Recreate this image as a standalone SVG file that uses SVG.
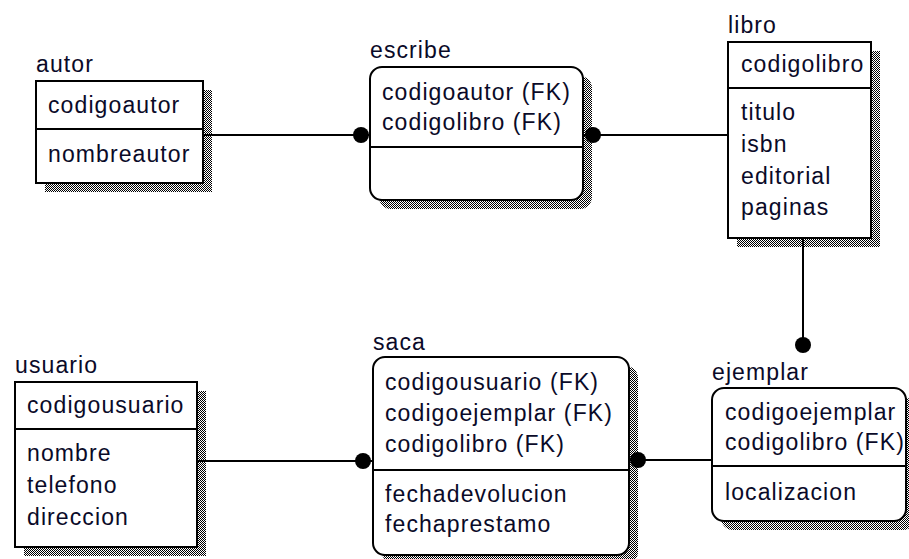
<svg xmlns="http://www.w3.org/2000/svg" width="909" height="559" viewBox="0 0 909 559">
<defs>
<pattern id="dither" width="2" height="2" patternUnits="userSpaceOnUse">
<rect width="2" height="2" fill="#ffffff"/>
<rect x="0" y="0" width="1" height="1" fill="#000000"/>
<rect x="1" y="1" width="1" height="1" fill="#000000"/>
</pattern>
</defs>
<style>
text { font-family: "Liberation Sans", Arial, sans-serif; font-size: 23px; letter-spacing: 1.1px; fill: #0a0a28; }
.shadow { fill: url(#dither); stroke: none; }
.box { fill: #ffffff; stroke: #000000; stroke-width: 2; }
.div { stroke: #000000; stroke-width: 2; }
.conn { stroke: #000000; stroke-width: 2; fill: none; }
.dot { fill: #000000; }
</style>
<rect width="909" height="559" fill="#ffffff"/>

<g id="autor">
<rect class="shadow" x="45" y="90" width="167" height="102"/>
<rect class="box" x="36" y="81" width="167" height="102"/>
<line class="div" x1="36" y1="129" x2="203" y2="129"/>
<text x="36" y="72">autor</text>
<text x="48" y="113">codigoautor</text>
<text x="48" y="162">nombreautor</text>
</g>

<g id="escribe">
<rect class="shadow" x="379" y="76" width="213" height="133" rx="12"/>
<rect class="box" x="370" y="67" width="213" height="133" rx="12"/>
<line class="div" x1="370" y1="147" x2="583" y2="147"/>
<text x="370" y="58">escribe</text>
<text x="382" y="100">codigoautor (FK)</text>
<text x="382" y="130">codigolibro (FK)</text>
</g>

<g id="libro">
<rect class="shadow" x="737" y="51" width="143" height="196"/>
<rect class="box" x="728" y="42" width="143" height="196"/>
<line class="div" x1="728" y1="88" x2="871" y2="88"/>
<text x="728" y="33">libro</text>
<text x="741" y="72">codigolibro</text>
<text x="741" y="120">titulo</text>
<text x="741" y="152">isbn</text>
<text x="741" y="184">editorial</text>
<text x="741" y="215">paginas</text>
</g>

<g id="usuario">
<rect class="shadow" x="24" y="391" width="182" height="165"/>
<rect class="box" x="15" y="382" width="182" height="165"/>
<line class="div" x1="15" y1="429" x2="197" y2="429"/>
<text x="15" y="373">usuario</text>
<text x="27" y="413">codigousuario</text>
<text x="27" y="461">nombre</text>
<text x="27" y="493">telefono</text>
<text x="27" y="525">direccion</text>
</g>

<g id="saca">
<rect class="shadow" x="382" y="366" width="256" height="198" rx="12"/>
<rect class="box" x="373" y="357" width="256" height="198" rx="12"/>
<line class="div" x1="373" y1="470" x2="629" y2="470"/>
<text x="373" y="350">saca</text>
<text x="385" y="390">codigousuario (FK)</text>
<text x="385" y="421">codigoejemplar (FK)</text>
<text x="385" y="452">codigolibro (FK)</text>
<text x="385" y="502">fechadevolucion</text>
<text x="385" y="532">fechaprestamo</text>
</g>

<g id="ejemplar">
<rect class="shadow" x="721" y="397" width="194" height="133" rx="12"/>
<rect class="box" x="712" y="388" width="194" height="133" rx="12"/>
<line class="div" x1="712" y1="466" x2="906" y2="466"/>
<text x="712" y="380">ejemplar</text>
<text x="725" y="420">codigoejemplar</text>
<text x="725" y="450">codigolibro (FK)</text>
<text x="725" y="500">localizacion</text>
</g>

<g id="connectors">
<line class="conn" x1="203" y1="135" x2="370" y2="135"/>
<circle class="dot" cx="361" cy="135" r="8"/>
<line class="conn" x1="583" y1="135" x2="728" y2="135"/>
<circle class="dot" cx="593" cy="135" r="8"/>
<line class="conn" x1="803" y1="238" x2="803" y2="345"/>
<circle class="dot" cx="803" cy="345" r="8"/>
<line class="conn" x1="197" y1="461" x2="373" y2="461"/>
<circle class="dot" cx="363" cy="461" r="8"/>
<line class="conn" x1="629" y1="460" x2="712" y2="460"/>
<circle class="dot" cx="638" cy="460" r="8"/>
</g>
</svg>
